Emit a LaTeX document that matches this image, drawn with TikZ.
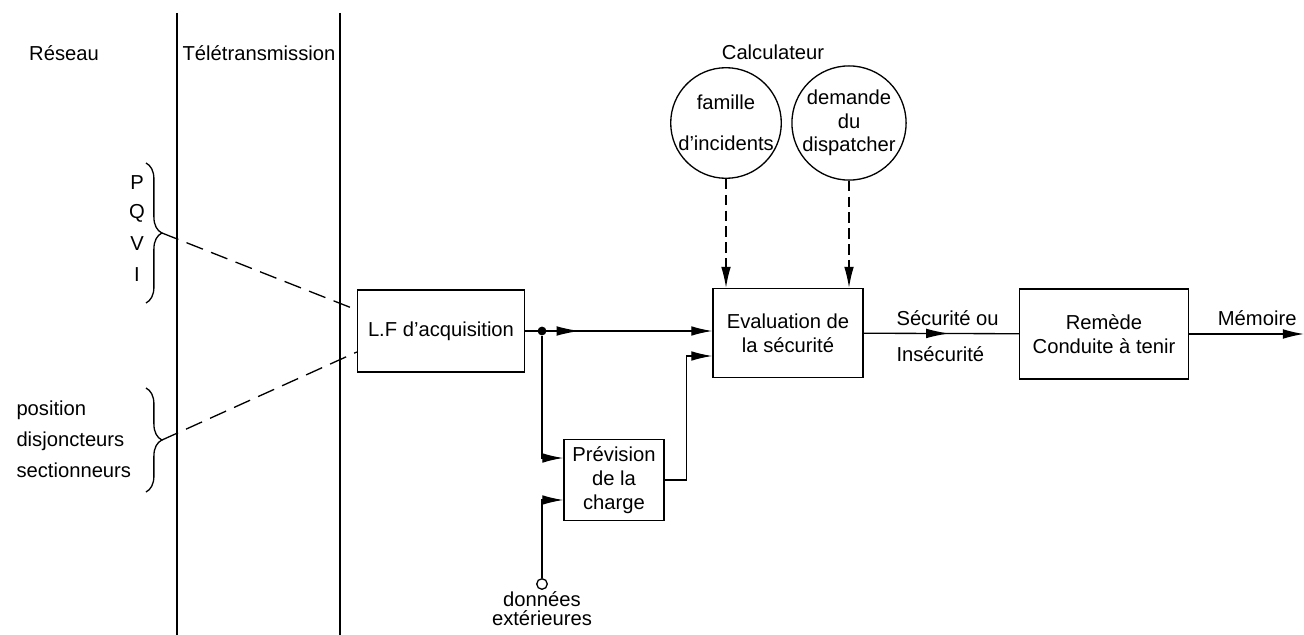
\documentclass[tikz,border=0pt]{standalone}
\usepackage{fontspec}
\setmainfont{Liberation Sans}
\usepackage{tikz}
\usetikzlibrary{arrows.meta,positioning,calc,decorations.pathreplacing,decorations.markings}

\begin{document}
\begin{tikzpicture}[
    x=0.02cm, y=-0.02cm,
    font=\fontsize{11.5}{13.5}\selectfont,
    line width=0.75pt,
    box/.style={rectangle, draw, align=center, inner sep=2pt},
    disc/.style={circle, draw, align=center, minimum size=2.16cm, inner sep=0pt},
    junction/.style={circle, fill, minimum size=5pt, inner sep=0pt},
    terminal/.style={circle, draw, fill=white, minimum size=6pt, inner sep=0pt},
    arrow/.style={-{Latex[length=12pt,width=5.5pt]}},
    dasharrow/.style={arrow, dash pattern=on 6pt off 3pt},
    linkdash/.style={dash pattern=on 10pt off 5pt},
    midarrow/.style={postaction={decorate}, decoration={markings, mark=at position #1 with {\arrow{Latex[length=13pt,width=5.5pt]}}}},
    curly/.style={decorate, decoration={brace, amplitude=9pt}}
]
\useasboundingbox (0,0) rectangle (1304,635);

% columns
\draw (177,13) -- (177,635);
\draw (340,13) -- (340,635);
\node (reseau) at (64,53) {Réseau};
\node (tele) at (259,53) {Télétransmission};

% measurements on the network
\node (p) at (137,183) {P};
\node (q) at (137,213) {Q};
\node (v) at (137,244) {V};
\node (i) at (137,275) {I};
\draw[curly] (146,163) -- (146,303);
\coordinate (pqvi) at (162,233);

\node[anchor=west, align=left, font=\fontsize{11.5}{17.6}\selectfont] (pos) at (10,439) {position\\disjoncteurs\\sectionneurs};
\draw[curly] (146,388) -- (146,492);
\coordinate (breakers) at (162,440);

% main chain
\node[box, minimum width=3.34cm, minimum height=1.64cm] (lf) at (441,331) {L.F d'acquisition};
\node[box, minimum width=3.0cm, minimum height=1.78cm] (eval) at (788,333) {Evaluation de\\la sécurité};
\node[box, minimum width=3.38cm, minimum height=1.8cm] (rem) at (1104,334) {Remède\\Conduite à tenir};
\node[box, minimum width=2.0cm, minimum height=1.62cm] (prev) at (614,480) {Prévision\\de la\\charge};

\draw[linkdash] (pqvi) -- ([yshift=0.42cm]lf.west);
\draw[linkdash] (breakers) -- ([yshift=-0.42cm]lf.west);

\node[junction] (split) at (542,331) {};
\draw[arrow, midarrow=0.29] (lf.east) -- (lf.east -| eval.west);
\draw[arrow] (split) |- ([yshift=0.44cm]prev.west);

\node[terminal] (ext) at (542,584) {};
\node[below=-3pt of ext, align=center, font=\fontsize{11.5}{11}\selectfont] (extlbl) {données\\extérieures};
\draw[arrow] (ext) |- ([yshift=-0.4cm]prev.west);
\draw[arrow] (prev.east) -- ++(0.44cm,0) |- ([yshift=-0.46cm]eval.west);

% calculateur
\node (calc) at (773,52) {Calculateur};
\node[disc] (fam) at (726,123) {famille\\[10pt]d'incidents};
\node[disc] (disp) at (849,123) {demande\\du\\dispatcher};
\draw[dasharrow] (fam) -- (fam |- eval.north);
\draw[dasharrow] (disp) -- (disp |- eval.north);

% output
\draw[midarrow=0.55] (eval) -- (rem);
\node[anchor=west] (secu) at (890,318) {Sécurité ou};
\node[anchor=west] (insecu) at (890,354) {Insécurité};
\coordinate (memend) at (1304,334);
\draw[arrow] (rem) -- (memend);
\node[anchor=east] (mem) at (1303,318) {Mémoire};

\end{tikzpicture}
\end{document}
